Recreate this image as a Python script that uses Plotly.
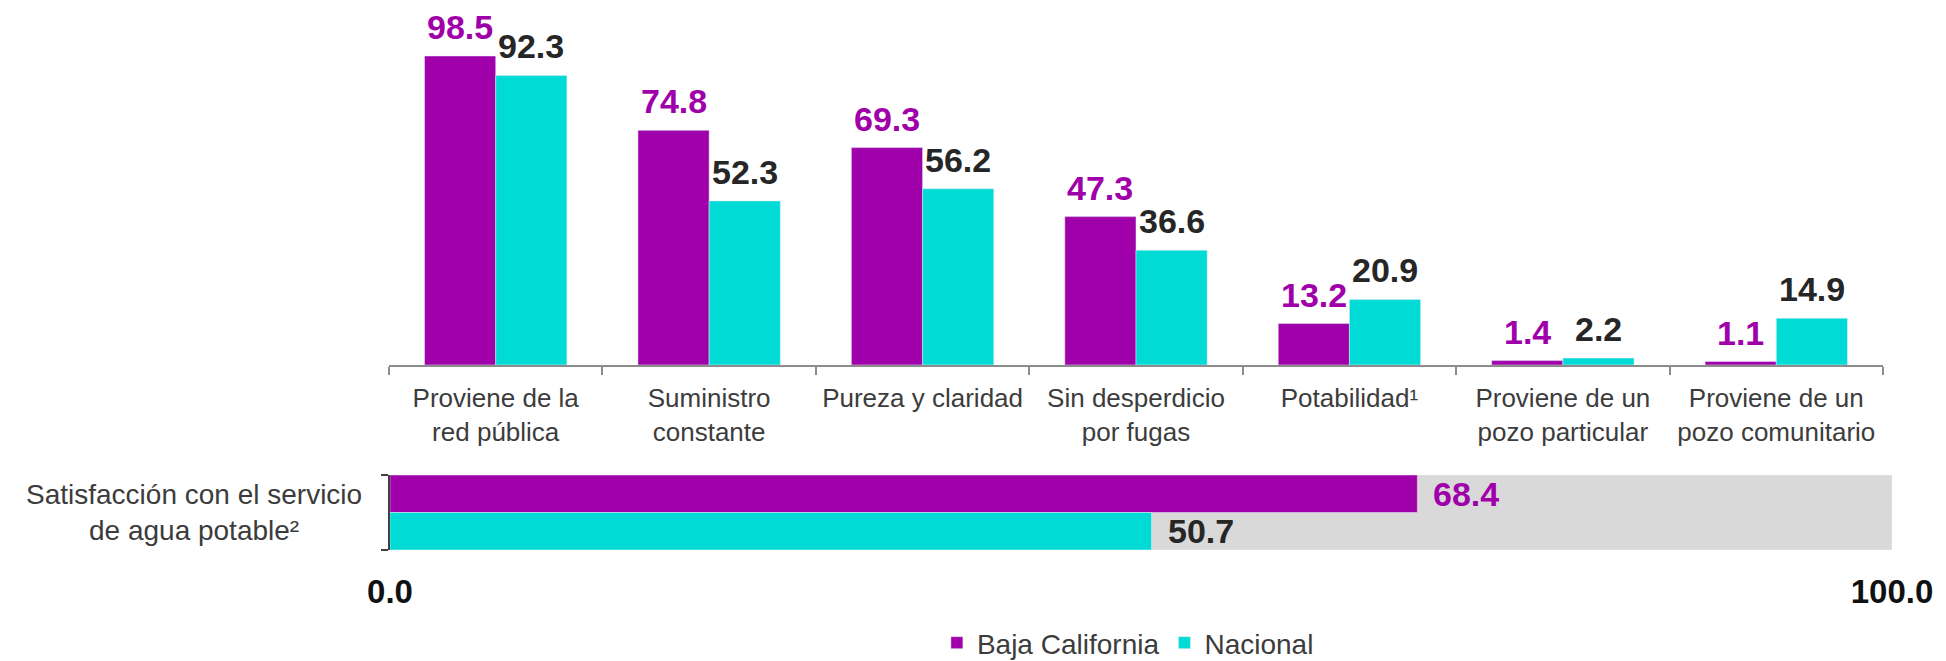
import plotly.graph_objects as go

categories = ["Proviene de la<br>red pública", "Suministro<br>constante", "Pureza y claridad",
              "Sin desperdicio<br>por fugas", "Potabilidad¹", "Proviene de un<br>pozo particular",
              "Proviene de un<br>pozo comunitario"]
baja = [98.5, 74.8, 69.3, 47.3, 13.2, 1.4, 1.1]
nacional = [92.3, 52.3, 56.2, 36.6, 20.9, 2.2, 14.9]

sat_label = "Satisfacción con el servicio<br>de agua potable²"
sat_baja = [68.4]
sat_nacional = [50.7]
sat_total = [100.0]
x_ticks = [0, 100]
x_ticktext = ["0.0", "100.0"]

PURPLE = "#A000AA"
CYAN = "#00DBD5"
GRAY = "#D9D9D9"
DARK = "#262626"
TXT = "#3C3C3C"
FONT = "Liberation Sans, Arial, sans-serif"
W, H = 1946, 661
BARGAP = 0.333
LABEL_SIZE = 34

fig = go.Figure()

fig.add_trace(go.Bar(x=categories, y=baja, name="Baja California", marker_color=PURPLE,
                     xaxis="x", yaxis="y"))
fig.add_trace(go.Bar(x=categories, y=nacional, name="Nacional", marker_color=CYAN,
                     xaxis="x", yaxis="y"))

# bottom: satisfaction
fig.add_trace(go.Bar(x=sat_total, y=[0.5], orientation="h", width=2, offset=-1,
                     marker_color=GRAY, showlegend=False, hoverinfo="skip",
                     xaxis="x2", yaxis="y2"))
fig.add_trace(go.Bar(x=sat_baja, y=[1], orientation="h", width=1, offset=-0.5,
                     marker_color=PURPLE, showlegend=False, xaxis="x2", yaxis="y2"))
fig.add_trace(go.Bar(x=sat_nacional, y=[0], orientation="h", width=1, offset=-0.5,
                     marker_color=CYAN, showlegend=False, xaxis="x2", yaxis="y2"))

# value labels above bars (positioned via data coordinates)
half = (1 - BARGAP) / 4
annotations = []
for i, (b, n) in enumerate(zip(baja, nacional)):
    for off, v, col in ((-half, b, PURPLE), (half, n, DARK)):
        annotations.append(dict(x=i + off, y=v, xref="x", yref="y", text=f"{v:.1f}",
                                showarrow=False, xanchor="center", yanchor="bottom",
                                yshift=8, font=dict(size=LABEL_SIZE, color=col,
                                                    weight="bold", family=FONT)))
for yv, v, col in ((1, sat_baja[0], PURPLE), (0, sat_nacional[0], DARK)):
    annotations.append(dict(x=v, y=yv, xref="x2", yref="y2", text=f"{v:.1f}",
                            showarrow=False, xanchor="left", yanchor="middle", xshift=14,
                            font=dict(size=LABEL_SIZE, color=col, weight="bold", family=FONT)))
annotations.append(dict(x=364 / W, y=0.5, xref="paper", yref="y2", text=sat_label,
                        showarrow=False, xanchor="right", yanchor="middle", align="center",
                        font=dict(size=28, color=TXT, family=FONT)))

def px_x(p):
    return p / W

def px_y(p):
    return 1 - p / H

fig.update_layout(
    width=W, height=H,
    margin=dict(l=0, r=0, t=0, b=0, autoexpand=False),
    paper_bgcolor="white", plot_bgcolor="white",
    barmode="group", bargap=BARGAP, bargroupgap=0,
    font=dict(family=FONT, color=TXT),
    annotations=annotations,
    xaxis=dict(domain=[px_x(389), px_x(1883)], range=[-0.5, 6.5], showline=True,
               linecolor="#8C8C8C", linewidth=1.5, ticks="outside", tickson="boundaries",
               ticklen=8, tickcolor="#8C8C8C", tickwidth=1.5, showgrid=False,
               tickfont=dict(size=26, color=TXT), ticklabelstandoff=9,
               anchor="y", fixedrange=True),
    yaxis=dict(domain=[px_y(365), px_y(51.3)], range=[0, 100], visible=False,
               anchor="x", fixedrange=True),
    xaxis2=dict(domain=[px_x(390), px_x(1892)], range=[0, 100], showline=False,
                showgrid=False, zeroline=False, tickvals=x_ticks, ticktext=x_ticktext,
                ticks="", tickfont=dict(size=33, color="#111111", weight="bold"),
                ticklabelstandoff=19, anchor="y2", fixedrange=True),
    yaxis2=dict(domain=[px_y(550), px_y(475)], range=[-0.5, 1.5], showline=True,
                linecolor="#404040", linewidth=1.5, showgrid=False, zeroline=False,
                showticklabels=False, ticks="",
                minor=dict(tickvals=[-0.5, 1.5], ticks="outside", ticklen=7,
                           tickcolor="#404040", tickwidth=1.5, showgrid=False),
                anchor="x2", fixedrange=True),
    legend=dict(orientation="h", x=0.5796, xanchor="center", y=px_y(643), yanchor="middle",
                font=dict(size=28, color=TXT), itemwidth=30, traceorder="normal",
                tracegroupgap=0),
    showlegend=True,
)

fig.write_html("out.html", config={"displayModeBar": False},
               post_script="document.body.style.margin='0';document.body.style.overflow='hidden';")
